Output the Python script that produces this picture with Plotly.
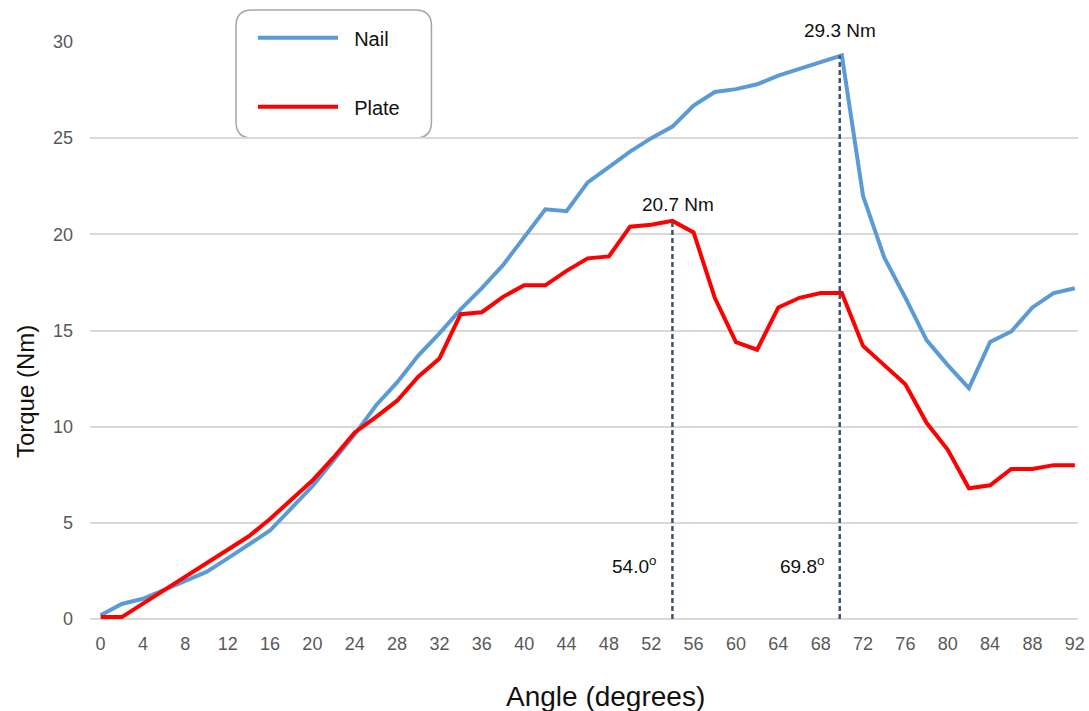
import plotly.graph_objects as go

# Torque vs. angle for the two fixation constructs
angle = list(range(0, 94, 2))
nail = [0.2, 0.78, 1.05, 1.5, 1.95, 2.45, 3.15, 3.85, 4.6, 5.75, 6.9, 8.25,
        9.6, 11.1, 12.3, 13.7, 14.85, 16.1, 17.2, 18.4, 19.85, 21.3, 21.2,
        22.7, 23.5, 24.3, 25.0, 25.6, 26.7, 27.4, 27.55, 27.8, 28.25, 28.6,
        29.0, 29.3, 22.0, 18.8, 16.7, 14.5, 13.2, 12.0, 14.4, 14.95, 16.2,
        16.95, 17.2]
plate = [0.1, 0.1, 0.8, 1.5, 2.2, 2.9, 3.55, 4.3, 5.2, 6.2, 7.2, 8.4, 9.7,
         10.5, 11.35, 12.6, 13.55, 15.85, 15.95, 16.75, 17.35, 17.35, 18.1,
         18.75, 18.85, 20.4, 20.5, 20.7, 20.1, 16.7, 14.4, 14.0, 16.2, 16.7,
         16.95, 16.95, 14.2, 13.2, 12.2, 10.2, 8.8, 6.8, 6.95, 7.8, 7.8, 8.0,
         8.0]

# Peak torque of each construct and the angle where it occurs
peak_angle = [54.0, 69.8]
peak_torque = [20.7, 29.3]

x_ticks = list(range(0, 93, 4))
y_ticks = [0, 5, 10, 15, 20, 25, 30]

FONT = "Liberation Sans, Arial, Helvetica, sans-serif"
BLUE = "#5b9bd5"
RED = "#ff0000"
DASH = "#44546a"
NBSP = "\u00a0"

fig = go.Figure()

fig.add_trace(go.Scatter(
    x=angle, y=nail, mode="lines", name=NBSP * 2 + "Nail", legendgroup="nail",
    line=dict(color=BLUE, width=4), cliponaxis=False))
fig.add_trace(go.Scatter(
    x=angle, y=plate, mode="lines", name=NBSP * 2 + "Plate",
    legendgroup="plate", line=dict(color=RED, width=4), cliponaxis=False))

# Dashed drop lines from each peak down to the angle axis
for a, t in zip(peak_angle, peak_torque):
    fig.add_trace(go.Scatter(
        x=[a, a], y=[0, t], mode="lines", showlegend=False,
        line=dict(color=DASH, width=2.5, dash="5px,3px"), hoverinfo="skip"))

annotations = []
# Peak torque labels
for a, t, dx, dy in zip(peak_angle, peak_torque, [6, 0], [4, 12]):
    annotations.append(dict(
        x=a, y=t, text=f"{t:.1f} Nm", showarrow=False, xanchor="center",
        yanchor="bottom", xshift=dx, yshift=dy,
        font=dict(family=FONT, size=19, color="#111111")))
# Peak angle labels
for a in peak_angle:
    annotations.append(dict(
        x=a, y=2.8, text=f"{a:.1f}<sup>o</sup>", showarrow=False,
        xanchor="right", yanchor="middle", xshift=-14,
        font=dict(family=FONT, size=19, color="#111111")))
# Axis titles
annotations.append(dict(
    x=-0.0658, y=0.395, xref="paper", yref="paper", text="Torque (Nm)",
    textangle=-90, showarrow=False, xanchor="center", yanchor="middle",
    font=dict(family=FONT, size=24, color="#111111")))
annotations.append(dict(
    x=0.522, y=-0.135, xref="paper", yref="paper", text="Angle (degrees)",
    showarrow=False, xanchor="center", yanchor="middle",
    font=dict(family=FONT, size=28, color="#111111")))

# Rounded frame behind the legend (paper coordinates)
x0, x1, y0, y1 = 0.1478, 0.3456, 0.8336, 1.0555
rx, ry = 0.0162, 0.0277
frame = (f"M {x0+rx},{y1} L {x1-rx},{y1} Q {x1},{y1} {x1},{y1-ry} "
         f"L {x1},{y0+ry} Q {x1},{y0} {x1-rx},{y0} "
         f"L {x0+rx},{y0} Q {x0},{y0} {x0},{y0+ry} "
         f"L {x0},{y1-ry} Q {x0},{y1} {x0+rx},{y1} Z")

fig.update_layout(
    width=1089, height=711,
    margin=dict(l=90, r=11, t=42, b=92),
    paper_bgcolor="white", plot_bgcolor="white",
    font=dict(family=FONT, color="#595959"),
    showlegend=True,
    legend=dict(
        x=0.165, y=1.041, xanchor="left", yanchor="top",
        bgcolor="rgba(0,0,0,0)", borderwidth=0,
        traceorder="grouped", tracegroupgap=40, itemwidth=80,
        font=dict(family=FONT, size=20, color="#111111")),
    shapes=[dict(type="path", path=frame, xref="paper", yref="paper",
                 line=dict(color="#a6a6a6", width=1.5),
                 fillcolor="white", layer="below")],
    annotations=annotations,
    xaxis=dict(
        range=[-1, 92.3], tickmode="array", tickvals=x_ticks,
        ticktext=[str(v) for v in x_ticks], showgrid=False, zeroline=False,
        showline=False, ticks="", ticklabelstandoff=12, automargin=False,
        tickfont=dict(family=FONT, size=18, color="#595959")),
    yaxis=dict(
        range=[0, 30], tickmode="array", tickvals=y_ticks,
        showgrid=True, gridcolor="#d9d9d9", gridwidth=1.5,
        zeroline=True, zerolinecolor="#d9d9d9", zerolinewidth=1.5,
        showline=False, ticks="", ticklabelstandoff=16, automargin=False,
        tickfont=dict(family=FONT, size=18, color="#595959")),
)

fig.write_html("out.html")
